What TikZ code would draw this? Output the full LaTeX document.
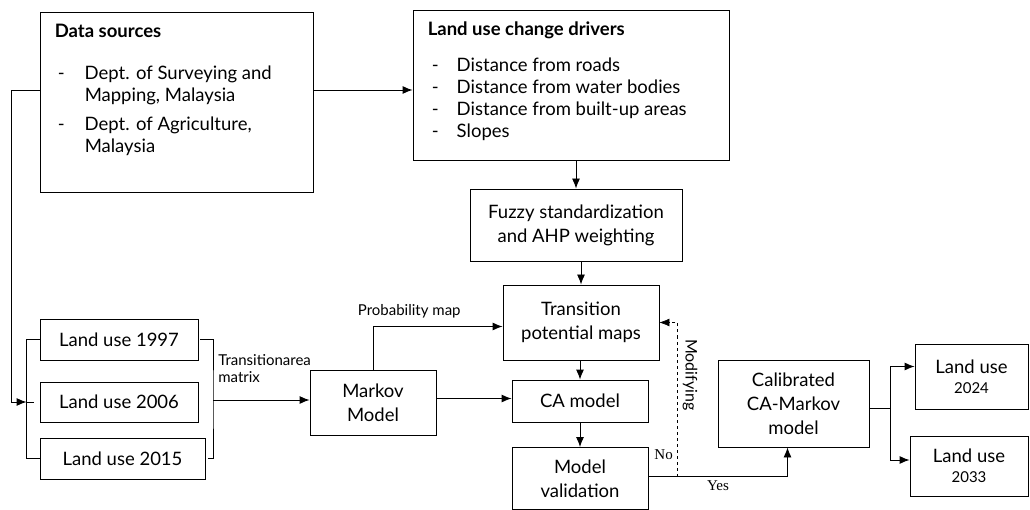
\documentclass[tikz,border=0pt]{standalone}
\usepackage{fontspec}
\setmainfont{Lato}
\newfontfamily\notefont{Liberation Serif}
\usetikzlibrary{arrows.meta, positioning}

\begin{document}
\begin{tikzpicture}[x=1pt, y=-1pt,
  box/.style={draw, line width=0.9pt, align=center, inner sep=2pt,
              font=\fontsize{18.5}{24}\selectfont},
  msg/.style={-{Latex[length=10pt,width=8pt]}, line width=0.9pt},
  link/.style={line width=0.9pt},
  lbl/.style={font=\fontsize{15}{17}\selectfont, align=left, inner sep=1pt},
  list/.style={anchor=north west, align=left, inner sep=0pt,
               font=\fontsize{18.5}{22}\selectfont}
]
  \useasboundingbox (0,0) rectangle (1030,510);

  % input boxes
  \node[box, minimum width=273pt, minimum height=180pt] (src) at (176.5,102) {};
  \node[list] (srctxt) at ([xshift=15pt,yshift=-12pt]src.north west)
    {\textbf{Data sources}\\[20pt]
     \begin{tabular}[t]{@{\hspace{3pt}}p{27pt}@{}l@{}}
     - & Dept. of Surveying and\\
       & Mapping, Malaysia\\[7pt]
     - & Dept. of Agriculture,\\
       & Malaysia
     \end{tabular}};

  \node[box, minimum width=316pt, minimum height=150pt] (drv) at (571,85) {};
  \node[list] (drvtxt) at ([xshift=15pt,yshift=-12pt]drv.north west)
    {\textbf{Land use change drivers}\\[14pt]
     \begin{tabular}[t]{@{\hspace{4pt}}p{25pt}@{}l@{}}
     - & Distance from roads\\
     - & Distance from water bodies\\
     - & Distance from built-up areas\\
     - & Slopes
     \end{tabular}};

  \node[box, minimum width=212pt, minimum height=72pt] (fuzzy) at (576,225)
    {Fuzzy standardization\\and AHP weighting};
  \node[box, minimum width=156pt, minimum height=75pt] (tpm) at (581,322.5)
    {Transition\\potential maps};
  \node[box, minimum width=136pt, minimum height=42pt] (ca) at (580,401) {CA model};
  \node[box, minimum width=136pt, minimum height=62pt] (val) at (580,478.5)
    {Model\\validation};

  % land use maps
  \node[box, minimum width=158pt, minimum height=41pt] (lu97) at (119,339.5) {Land use 1997};
  \node[box, minimum width=158pt, minimum height=40pt] (lu06) at (119,402) {Land use 2006};
  \node[box, minimum width=165pt, minimum height=41pt] (lu15) at (122.5,458.5) {Land use 2015};
  \node[box, minimum width=126pt, minimum height=65pt] (markov) at (373,402.5)
    {Markov\\Model};
  \node[box, minimum width=151pt, minimum height=87pt] (cal) at (793.5,403.5)
    {Calibrated\\CA-Markov\\model};
  \node[box, minimum width=113pt, minimum height=65pt] (lu24) at (971.5,376.5)
    {Land use\\[-4pt]{\fontsize{15}{16}\selectfont 2024}};
  \node[box, minimum width=118pt, minimum height=60pt] (lu33) at (969,466)
    {Land use\\[-4pt]{\fontsize{15}{16}\selectfont 2033}};

  \coordinate (lbr) at ([xshift=-13pt]lu06.west);
  \coordinate (rbr) at (213,400);
  \coordinate (split) at ([xshift=21pt,yshift=-5pt]cal.east);

  % top row
  \draw[msg] ([yshift=12pt]src.east) -- ([yshift=12pt]src.east -| drv.west);
  \draw[msg] (fuzzy.north |- drv.south) -- (fuzzy.north);
  \draw[msg] (tpm.north |- fuzzy.south) -- (tpm.north);
  \draw[msg] (tpm.south -| ca.north) -- (ca.north);
  \draw[msg] (ca.south) -- (val.north);

  % land use brackets
  \draw[msg] ([yshift=12pt]src.west) -- ++(-28,0) |- (lbr);
  \draw[link] (lbr) -- ([xshift=-6pt]lu06.west);
  \draw[link] (lu97.west) -| (lbr) |- (lu15.west);
  \draw[link] ([xshift=2pt]lu97.east) -| (rbr) |- ([xshift=3pt]lu15.east);
  \draw[msg] (rbr) -- node[lbl, above right, pos=0.04, yshift=16pt] {Transitionarea\\matrix}
             (rbr -| markov.west);

  % markov and CA
  \draw[msg] (markov.north) |- node[lbl, pos=0.64, above, yshift=7pt] {Probability map}
             ([yshift=-4pt]tpm.west);
  \draw[msg] ([yshift=4pt]markov.east) -- ([yshift=4pt]markov.east -| ca.west);

  % validation loop
  \draw[msg] ([yshift=2pt]val.east) -| node[pos=0.25, below, font=\notefont\fontsize{15}{16}\selectfont] {Yes}
             ([xshift=-6pt]cal.south);
  \draw[msg, dashed, line width=0.6pt] ([xshift=29pt,yshift=2pt]val.east) |-
             node[pos=0.33, rotate=-90, anchor=south, inner sep=5pt, font=\fontsize{16}{17}\selectfont] {Modifying}
             node[pos=0.07, left, xshift=-1pt, font=\notefont\fontsize{15}{16}\selectfont] {No}
             (tpm.east);

  % outputs
  \draw[link] ([yshift=-5pt]cal.east) -- (split);
  \draw[msg] (split) |- ([yshift=10pt]lu24.west);
  \draw[msg] (split) |- ([yshift=6pt]lu33.west);
\end{tikzpicture}
\end{document}
